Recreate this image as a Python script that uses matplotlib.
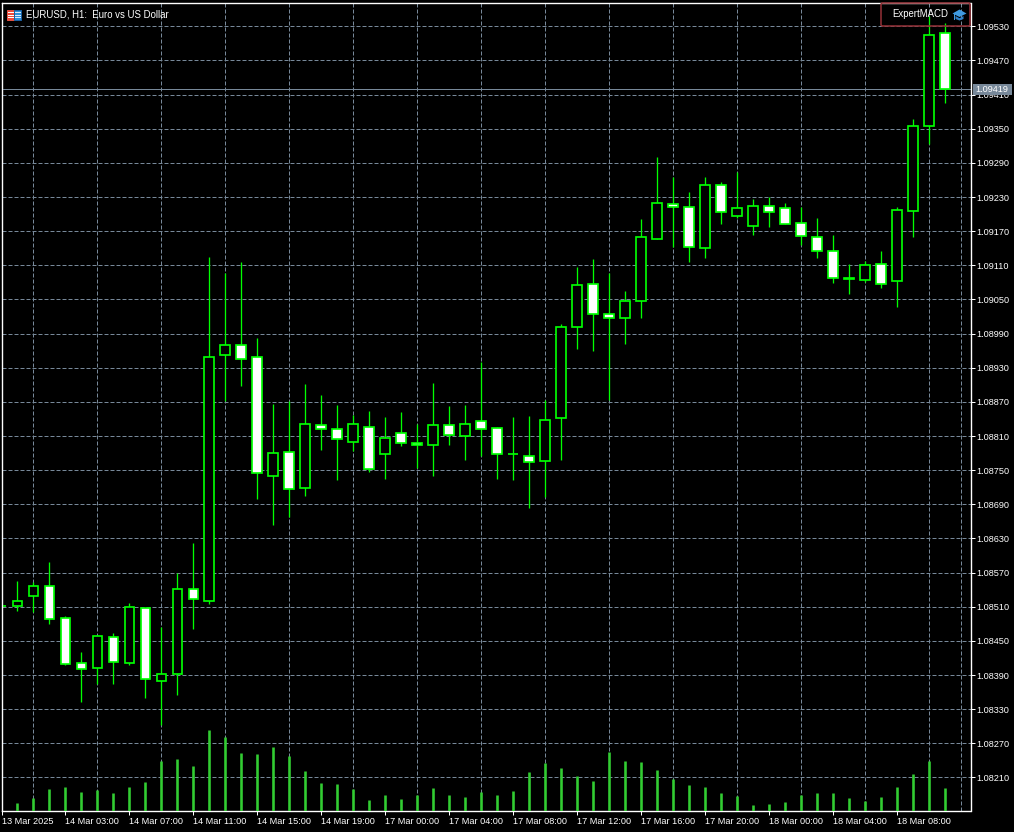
import matplotlib
matplotlib.use("Agg")
import matplotlib.pyplot as plt
from matplotlib.patches import Rectangle, Polygon, FancyBboxPatch

plt.rcParams['font.family'] = ['Liberation Sans', 'DejaVu Sans']

# bars -1 .. 58 (first one is cut by the left edge)
opens = [1.08511, 1.08511, 1.08529, 1.08546, 1.08490, 1.08411, 1.08402, 1.08456, 1.08411, 1.08507, 1.08379,
         1.08391, 1.08541, 1.08520, 1.08952, 1.08970, 1.08948, 1.08739, 1.08782, 1.08718, 1.08829,
         1.08822, 1.08799, 1.08825, 1.08779, 1.08815, 1.08797, 1.08794, 1.08829, 1.08810, 1.08836,
         1.08824, 1.08778, 1.08775, 1.08766, 1.08841, 1.09001, 1.09077, 1.09024, 1.09017, 1.09047,
         1.09157, 1.09217, 1.09212, 1.09140, 1.09252, 1.09196, 1.09179, 1.09214, 1.09210, 1.09184,
         1.09159, 1.09135, 1.09087, 1.09085, 1.09112, 1.09082, 1.09205, 1.09354, 1.09518]
highs = [1.08511, 1.08555, 1.08554, 1.08589, 1.08493, 1.08431, 1.08458, 1.08464, 1.08516, 1.08507, 1.08474,
         1.08570, 1.08622, 1.09125, 1.09096, 1.09116, 1.08982, 1.08866, 1.08872, 1.08901, 1.08882,
         1.08865, 1.08847, 1.08854, 1.08844, 1.08852, 1.08831, 1.08903, 1.08863, 1.08865, 1.08940,
         1.08825, 1.08844, 1.08845, 1.08874, 1.09007, 1.09107, 1.09121, 1.09096, 1.09065, 1.09191,
         1.09300, 1.09265, 1.09238, 1.09265, 1.09256, 1.09274, 1.09226, 1.09230, 1.09219, 1.09212,
         1.09193, 1.09163, 1.09112, 1.09117, 1.09135, 1.09212, 1.09367, 1.09548, 1.09536]
lows = [1.08511, 1.08503, 1.08500, 1.08480, 1.08407, 1.08342, 1.08375, 1.08375, 1.08407, 1.08349, 1.08302,
        1.08354, 1.08470, 1.08514, 1.08872, 1.08898, 1.08700, 1.08654, 1.08667, 1.08705, 1.08786,
        1.08732, 1.08783, 1.08746, 1.08734, 1.08793, 1.08754, 1.08740, 1.08795, 1.08767, 1.08775,
        1.08735, 1.08732, 1.08684, 1.08702, 1.08768, 1.08963, 1.08960, 1.08873, 1.08971, 1.09018,
        1.09157, 1.09143, 1.09115, 1.09123, 1.09183, 1.09193, 1.09164, 1.09177, 1.09182, 1.09145,
        1.09122, 1.09079, 1.09060, 1.09080, 1.09071, 1.09036, 1.09160, 1.09324, 1.09395]
closes = [1.08511, 1.08520, 1.08546, 1.08488, 1.08409, 1.08400, 1.08458, 1.08413, 1.08509, 1.08383, 1.08391,
          1.08541, 1.08523, 1.08948, 1.08970, 1.08945, 1.08745, 1.08780, 1.08717, 1.08831, 1.08822,
          1.08804, 1.08831, 1.08752, 1.08806, 1.08798, 1.08794, 1.08829, 1.08811, 1.08832, 1.08822,
          1.08778, 1.08778, 1.08764, 1.08839, 1.09001, 1.09075, 1.09024, 1.09017, 1.09047, 1.09159,
          1.09219, 1.09212, 1.09142, 1.09252, 1.09203, 1.09210, 1.09215, 1.09203, 1.09182, 1.09161,
          1.09135, 1.09087, 1.09086, 1.09110, 1.09078, 1.09207, 1.09354, 1.09514, 1.09419]
# tick volume of bars 0 .. 58
volumes = [720, 1170, 1980, 2160, 1710, 1920, 1620, 2160, 2610, 4500, 4680, 4080, 7290, 6660, 5220, 5160,
           5760, 4950, 3600, 2520, 2430, 1980, 990, 1440, 1080, 1440, 2070, 1440, 1260, 1710, 1440,
           1800, 3510, 4320, 3870, 3150, 2700, 5310, 4500, 4410, 3690, 2880, 2340, 2160, 1620, 1350,
           540, 630, 810, 1440, 1620, 1620, 1170, 900, 1260, 2160, 3330, 4500, 2070]

price_ticks = [1.08210, 1.08270, 1.08330, 1.08390, 1.08450, 1.08510, 1.08570, 1.08630, 1.08690, 1.08750,
               1.08810, 1.08870, 1.08930, 1.08990, 1.09050, 1.09110, 1.09170, 1.09230, 1.09290, 1.09350,
               1.09410, 1.09470, 1.09530]
time_ticks = [-1, 3, 7, 11, 15, 19, 23, 27, 31, 35, 39, 43, 47, 51, 55]
time_labels = ['13 Mar 2025', '14 Mar 03:00', '14 Mar 07:00', '14 Mar 11:00', '14 Mar 15:00', '14 Mar 19:00',
               '17 Mar 00:00', '17 Mar 04:00', '17 Mar 08:00', '17 Mar 12:00', '17 Mar 16:00', '17 Mar 20:00',
               '18 Mar 00:00', '18 Mar 04:00', '18 Mar 08:00']

W, H = 1014, 832
px = 0.72  # one pixel in points at dpi 100
green = '#00ff00'
grid_col = '#778899'

fig = plt.figure(figsize=(W / 100, H / 100), dpi=100, facecolor='black')
ax = fig.add_axes([1.5 / W, (H - 811) / H, 969 / W, 808 / H], facecolor='black')
ax.set_xlim(-0.9875, 59.575)
ax.set_ylim(1.08151, 1.09571)

# volume on its own scale, same rectangle, drawn over the price axes
vol = ax.twinx()
vol.set_ylim(0, 72720)
vol.set_yticks([])
vol.vlines([i - 0.03 for i in range(len(volumes))], 0, volumes, color='#32cd32', lw=2.6 * px, zorder=3)
ax.set_zorder(1)
vol.set_zorder(2)
vol.patch.set_visible(False)

# grid
ax.set_axisbelow(True)
ax.set_yticks(price_ticks)
ax.set_yticklabels(['%.5f' % p for p in price_ticks])
ax.set_xticks(time_ticks)
ax.set_xticklabels(time_labels, ha='left')
ax.set_xticks(range(1, 60, 2), minor=True)
ax.yaxis.tick_right()
ax.grid(True, axis='y', which='major', color=grid_col, lw=px, linestyle=(0, (4, 2)))
ax.grid(True, axis='x', which='minor', color=grid_col, lw=px, linestyle=(0, (4, 2)))
ax.tick_params(axis='x', which='minor', length=0)
ax.tick_params(axis='both', which='major', colors='white', length=4 * px, width=px, labelsize=6.6, pad=1.5)
for s in list(ax.spines.values()) + list(vol.spines.values()):
    s.set_color('white')
    s.set_linewidth(1.2 * px)

# candles
for i in range(len(opens)):
    x = i - 1
    o, h, l, c = opens[i], highs[i], lows[i], closes[i]
    ax.vlines(x, l, h, color=green, lw=1.3 * px, zorder=4)
    face = 'white' if c < o else 'black'
    ax.bar(x, abs(c - o), bottom=min(o, c), width=0.62, facecolor=face, edgecolor=green, lw=1.7 * px, zorder=5)

# bid line
bid = closes[-1]
ax.axhline(bid, color=grid_col, lw=px, zorder=3)

# overlay in pixels for the header, icons and the bid label
top = fig.add_axes([0, 0, 1, 1], facecolor='none')
top.set_zorder(5)
top.set_xlim(0, W)
top.set_ylim(H, 0)
top.axis('off')

top.add_patch(Rectangle((972.5, 84), 39.5, 11, facecolor=grid_col, edgecolor='none'))
top.text(975.5, 89.8, '%.5f' % bid, color='white', fontsize=6.6, va='center', ha='left')

top.text(26.5, 14.3, 'EURUSD, H1:  Euro vs US Dollar', color='white', fontsize=6.9, va='center', ha='left')
top.text(892, 14.3, 'ExpertMACD', color='white', fontsize=6.9, va='center', ha='left')

# chart symbol icon
top.add_patch(Rectangle((6.5, 9.5), 7, 10, facecolor='#f04a3a', edgecolor='#e05040', lw=px))
top.add_patch(Rectangle((13.5, 9.5), 7, 10, facecolor='#2f8fd8', edgecolor='#1a5fa0', lw=px))
for yy in [12, 14.5, 17]:
    top.plot([8, 13], [yy, yy], color='white', lw=px)
    top.plot([15, 20], [yy, yy], color='#d8ecff', lw=px)

# red frame and cap
top.add_patch(FancyBboxPatch((881, 3), 89, 23, boxstyle='round,pad=0,rounding_size=1.5',
                             facecolor='none', edgecolor='#8f2f35', lw=1.6 * px))
cap = '#3f9ae0'
top.add_patch(Polygon([(952.5, 13.5), (959.5, 9.5), (966.5, 13.5), (959.5, 17)], facecolor=cap, edgecolor='none'))
top.add_patch(Polygon([(955.5, 16), (955.5, 19), (959.5, 20.5), (963.5, 19), (963.5, 16), (959.5, 18.2)],
                      facecolor='#2f80c8', edgecolor='none'))
top.plot([953.5, 953.5], [14, 19], color=cap, lw=px)

fig.savefig('out.png', dpi=100, facecolor='black')
